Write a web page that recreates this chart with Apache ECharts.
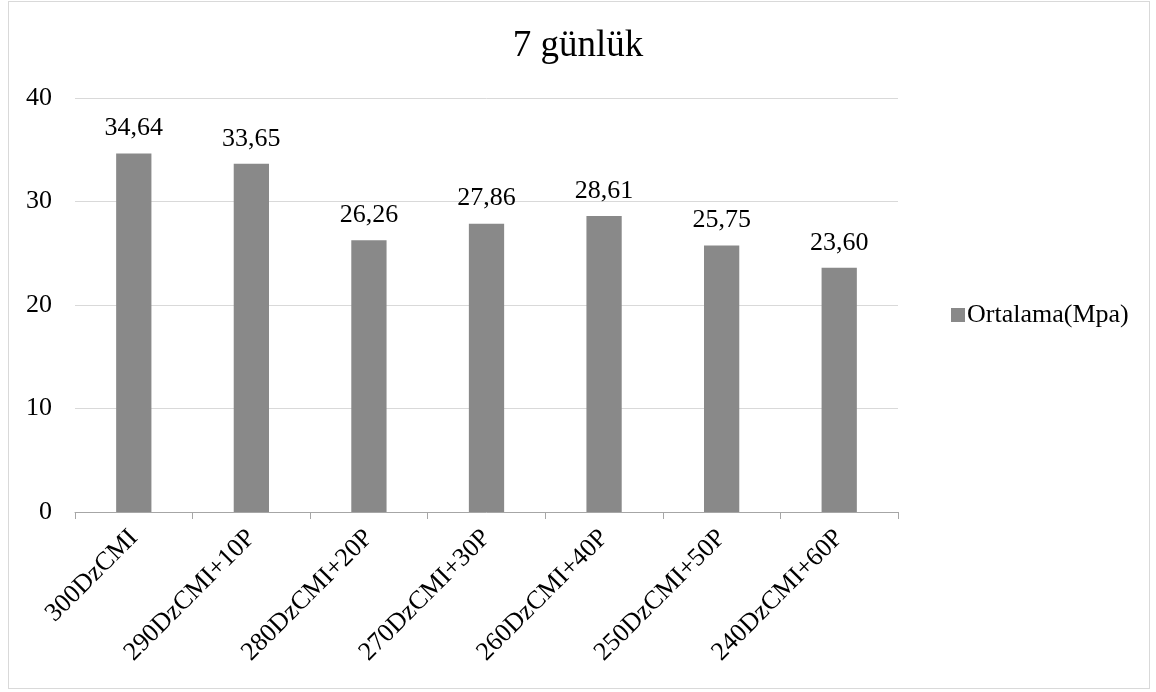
<!DOCTYPE html>
<html>
<head>
<meta charset="utf-8">
<script src="https://cdn.jsdelivr.net/npm/echarts@6/dist/echarts.min.js"></script>
<style>
  html, body { margin: 0; padding: 0; background: #ffffff; }
  #frame { position: absolute; left: 8px; top: 1px; width: 1142px; height: 688px; border: 1px solid #d9d9d9; box-sizing: border-box; }
  #chart { position: absolute; left: 0; top: 0; width: 1156px; height: 692px; }
</style>
</head>
<body>
<div id="frame"></div>
<div id="chart"></div>
<script>
// Mixes and their 7-day mean compressive strength (MPa)
const categories = ['300DzCMI', '290DzCMI+10P', '280DzCMI+20P', '270DzCMI+30P', '260DzCMI+40P', '250DzCMI+50P', '240DzCMI+60P'];
const strength = [34.64, 33.65, 26.26, 27.86, 28.61, 25.75, 23.60];
const seriesName = 'Ortalama(Mpa)';
const titleText = '7 günlük';

const serif = '"Liberation Serif", "DejaVu Serif", serif';
const chart = echarts.init(document.getElementById('chart'), null, { renderer: 'canvas' });

chart.setOption({
  animation: false,
  backgroundColor: 'transparent',
  title: {
    text: titleText,
    left: 'center',
    top: 23,
    textStyle: { fontFamily: serif, fontSize: 37, fontWeight: 'normal', color: '#000' }
  },
  legend: {
    data: [seriesName],
    orient: 'vertical',
    left: 946,
    top: 297,
    icon: 'rect',
    itemWidth: 14,
    itemHeight: 14,
    itemGap: 5,
    textStyle: { fontFamily: serif, fontSize: 26, color: '#000', padding: [0, 0, 0, -3] }
  },
  grid: { left: 75, right: 258, top: 98, bottom: 180 },
  xAxis: {
    type: 'category',
    data: categories,
    axisLine: { lineStyle: { color: '#a6a6a6', width: 1 } },
    axisTick: { show: true, length: 7, lineStyle: { color: '#a6a6a6' } },
    axisLabel: { rotate: 45, fontFamily: serif, fontSize: 26, color: '#000', margin: 22, interval: 0 }
  },
  yAxis: {
    type: 'value',
    min: 0,
    max: 40,
    interval: 10,
    axisLine: { show: false },
    axisTick: { show: false },
    splitLine: { lineStyle: { color: '#d9d9d9', width: 1 } },
    axisLabel: { fontFamily: serif, fontSize: 26, color: '#000', margin: 23 }
  },
  series: [{
    name: seriesName,
    type: 'bar',
    data: strength,
    barWidth: '30%',
    itemStyle: { color: '#898989' },
    label: {
      show: true,
      position: 'top',
      distance: 12,
      fontFamily: serif,
      fontSize: 26,
      color: '#000',
      formatter: p => p.value.toFixed(2).replace('.', ',')
    }
  }]
});
</script>
</body>
</html>
